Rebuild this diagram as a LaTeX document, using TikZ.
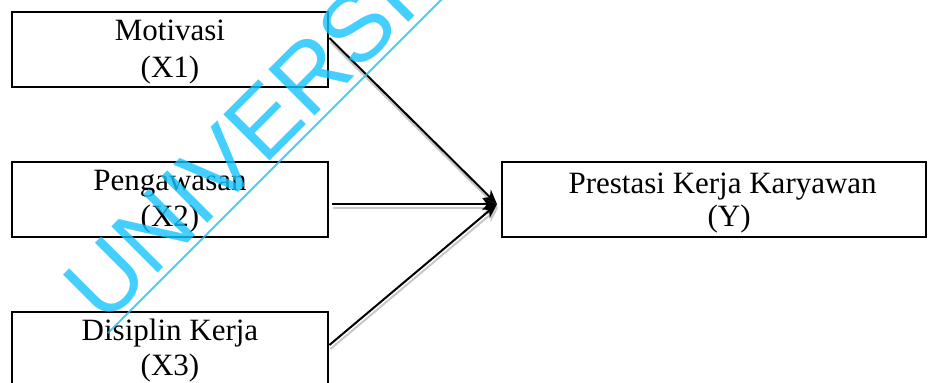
\documentclass[tikz,border=0pt]{standalone}
\usepackage{fontspec}
\setmainfont{Liberation Serif}
\newfontfamily\wmfont{Liberation Sans}
\usetikzlibrary{arrows.meta,calc}
\definecolor{wmcyan}{RGB}{20,195,255}
\definecolor{shadowgray}{RGB}{200,200,200}
\begin{document}
\begin{tikzpicture}[x=0.75pt,y=-0.75pt,
  varbox/.style={draw=black,line width=1.7pt,minimum width=237.5pt,
    minimum height=56.25pt,inner sep=0pt,anchor=north west},
  lbl/.style={anchor=base,inner sep=0pt,
    font=\fontsize{23.25pt}{27pt}\selectfont},
  link/.style={draw=black,line width=1.5pt,
    -{Stealth[length=11pt,width=9pt]}},
  linkshadow/.style={draw=shadowgray,line width=1.5pt,
    -{Stealth[length=11pt,width=9pt]}},
  watermark/.style={text=wmcyan,text opacity=0.8,inner sep=0pt,
    font=\wmfont\fontsize{71.25pt}{75pt}\selectfont}]
\useasboundingbox (0,0) rectangle (928,382);
\clip (0,0) rectangle (928,382);

% variable boxes
\node[varbox] (x1) at (10.5,11) {};
\node[varbox] (x2) at (10.5,161) {};
\node[varbox] (x3) at (10.5,311) {};
\node[varbox,minimum width=318pt] (y) at (501,161) {};

% box labels
\node[lbl] (x1a) at ($(x1.north)+(0,29.7)$) {Motivasi};
\node[lbl] (x1b) at ($(x1.north)+(0,66.3)$) {(X1)};
\node[lbl] (x2a) at ($(x2.north)+(0,29)$) {Pengawasan};
\node[lbl] (x2b) at ($(x2.north)+(0,65)$) {(X2)};
\node[lbl] (x3a) at ($(x3.north)+(0,29)$) {Disiplin Kerja};
\node[lbl] (x3b) at ($(x3.north)+(0,64)$) {(X3)};
\node[lbl] (ya) at ($(y.north)+(8.5,32)$) {Prestasi Kerja Karyawan};
\node[lbl] (yb) at ($(y.north)+(15,65)$) {(Y)};

% connector end points
\coordinate (tip) at ($(y.west)+(-4,4.5)$);
\coordinate (s1) at ($(x1.north east)+(0,27)$);
\coordinate (s2) at ($(x2.east)+(3,4.5)$);
\coordinate (s3) at ($(x3.north east)+(0,34)$);

% soft shadows under the arrows
\draw[linkshadow] ($(s1)+(1,4)$) -- ($(tip)+(1,4)$);
\draw[linkshadow] ($(s2)+(1,4)$) -- ($(tip)+(1,4)$);
\draw[linkshadow] ($(s3)+(1,4)$) -- ($(tip)+(1,4)$);

% arrows
\draw[link] (s1) -- (tip);
\draw[link] (s2) -- (tip);
\draw[link] (s3) -- (tip);

% diagonal watermark
\node[watermark,anchor=base west,rotate=45] (wm) at (104,327) {UNIVERSITAS};
\coordinate (wm1) at (108,333);
\coordinate (wm2) at (450,-9);
\draw[wmcyan,draw opacity=0.8,line width=1.5pt] (wm1) -- (wm2);
\end{tikzpicture}
\end{document}
